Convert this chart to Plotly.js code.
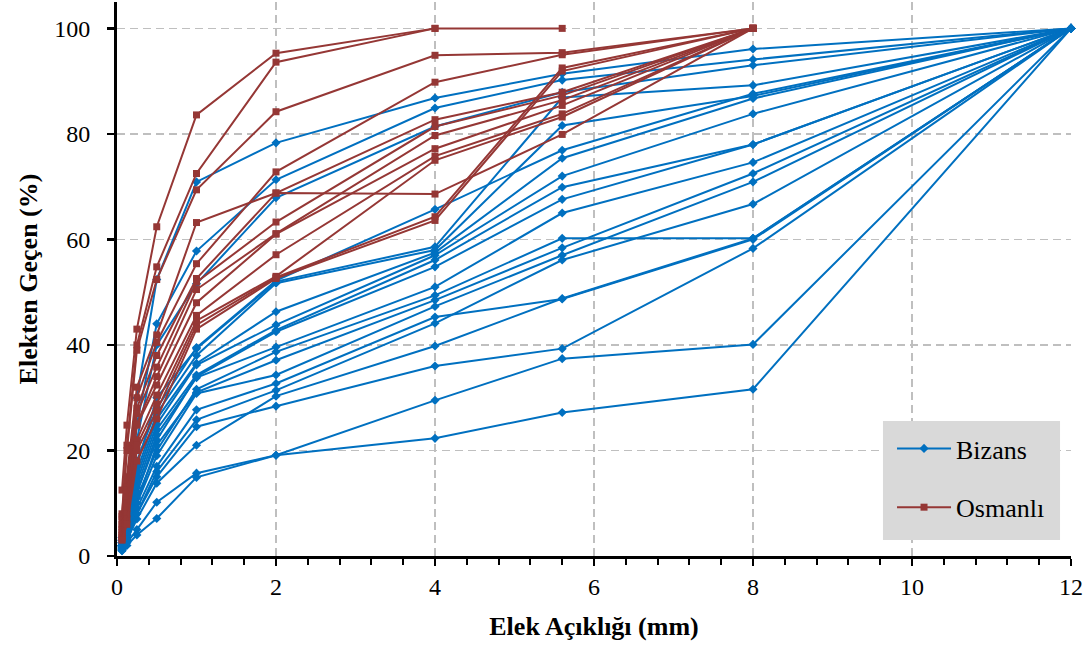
<!DOCTYPE html>
<html>
<head>
<meta charset="utf-8">
<script src="https://cdn.plot.ly/plotly-3.0.1.min.js"></script>
<style>html,body{margin:0;padding:0;background:#fff;}#chart{width:1090px;height:650px;}</style>
</head>
<body>
<div id="chart"></div>
<script>
// Sieve openings (mm)
const sieves = [0.063, 0.125, 0.25, 0.5, 1, 2, 4, 5.6, 8, 12];
const xTicks = [0, 2, 4, 6, 8, 10, 12];
const yTicks = [0, 20, 40, 60, 80, 100];

// Bizans samples (% passing)
const B01 = [3.5, 10, 30, 52.4, 70.9, 78.3, 86.8, 91.4, 96.1, 100];
const B02 = [3, 8, 25, 44, 57.8, 71.3, 84.9, 90.2, 94.1, 100];
const B03 = [3, 7, 22, 40, 51.6, 67.9, 81.4, 87.9, 93.0, 100];
const B04 = [2.5, 6, 18, 28, 39.5, 52.2, 65.7, 76.9, 87.6, 100];
const B05 = [2.5, 6, 17, 30, 39.3, 52.0, 58.6, 86.9, 89.2, 100];
const B06 = [2.5, 5.5, 16, 27, 38.0, 51.7, 58.0, 81.6, 87.2, 100];
const B07 = [2, 5, 15, 26, 36.5, 46.3, 57.5, 75.4, 86.7, 100];
const B08 = [2, 5, 14, 25, 36.2, 43.8, 57.0, 72.0, 83.8, 100];
const B09 = [2, 5, 13, 24, 34.3, 42.8, 56.1, 69.9, 78.0, 100];
const B10 = [2, 4.5, 12, 22, 34.0, 42.5, 54.8, 67.6, 78.0, 100];
const B11 = [2, 4.5, 12, 23, 33.8, 39.6, 51.0, 65.0, 74.6, 100];
const B12 = [1.8, 4, 11, 20, 31.6, 38.7, 49.4, 60.2, 60.2, 100];
const B13 = [1.8, 4, 10, 21, 31.0, 37.1, 48.5, 58.4, 72.5, 100];
const B14 = [1.5, 4, 10, 19, 30.8, 34.3, 47.3, 57.0, 70.9, 100];
const B15 = [1.5, 3.5, 9, 17, 27.7, 32.7, 45.3, 48.7, 60.0, 100];
const B16 = [1.5, 3.5, 8, 16, 25.8, 31.4, 44.1, 56.1, 66.7, 100];
const B17 = [1.2, 3, 7, 13.8, 21.0, 30.3, 39.8, 48.8, 60.2, 100];
const B18 = [1.2, 3, 8, 15, 24.5, 28.4, 36.0, 39.3, 58.3, 100];
const B19 = [1, 2.5, 5, 10.2, 15.7, 19.1, 29.5, 37.4, 40.1, 100];
const B20 = [1, 2, 4, 7.1, 14.9, 19.1, 22.3, 27.2, 31.6, 100];

// Osmanlı samples (% passing); shorter series stop at 100 %
const O01 = [12.5, 24.8, 43, 62.4, 83.6, 95.3, 100];
const O02 = [8, 21, 40, 54.8, 72.5, 93.6, 100, 100];
const O03 = [7.5, 20, 39, 52.4, 69.4, 84.2, 94.9, 95.4, 100];
const O04 = [6.8, 15, 32, 41.9, 63.2, 68.8, 68.6, 79.9, 100];
const O05 = [6, 14, 30, 40.5, 55.4, 72.8, 89.8, 95.0, 100];
const O06 = [5.5, 13, 28, 38, 52.6, 68.8, 82.7, 87.9, 100];
const O07 = [5, 12.5, 27, 35.8, 51.9, 63.3, 81.4, 87.3, 100];
const O08 = [4.5, 11, 25, 34, 50.5, 61.1, 79.7, 86.4, 100];
const O09 = [4, 10, 24.8, 32.4, 48.0, 61.0, 77.2, 85.4, 100];
const O10 = [3.8, 9, 22, 30.5, 45.6, 57.1, 75.8, 83.8, 100];
const O11 = [3.5, 8, 21, 28.8, 44.6, 53.0, 75.0, 83.2, 100];
const O12 = [3.2, 7, 20, 27.5, 43.8, 52.8, 64.3, 92.5, 100];
const O13 = [3, 6, 18, 26, 43.0, 52.6, 63.6, 91.9, 100];

const bizansSeries = [B01,B02,B03,B04,B05,B06,B07,B08,B09,B10,B11,B12,B13,B14,B15,B16,B17,B18,B19,B20];
const osmanliSeries = [O01,O02,O03,O04,O05,O06,O07,O08,O09,O10,O11,O12,O13];

const blue = '#0070c0';
const red = '#953735';
const serif = 'Liberation Serif, Times New Roman, serif';

const traces = [];
bizansSeries.forEach((s, i) => {
  traces.push({
    type: 'scatter', mode: 'lines+markers',
    x: sieves.slice(0, s.length), y: s,
    name: 'Bizans', legendgroup: 'b', showlegend: i === 0,
    line: {color: blue, width: 2},
    marker: {symbol: 'diamond', size: 7, color: blue},
    cliponaxis: false, hoverinfo: 'skip'
  });
});
osmanliSeries.forEach((s, i) => {
  traces.push({
    type: 'scatter', mode: 'lines+markers',
    x: sieves.slice(0, s.length), y: s,
    name: 'Osmanlı', legendgroup: 'o', showlegend: i === 0,
    line: {color: red, width: 2},
    marker: {symbol: 'square', size: 7, color: red},
    cliponaxis: false, hoverinfo: 'skip'
  });
});

const axisCommon = {
  showline: true, linewidth: 3, linecolor: '#000',
  ticks: 'outside', ticklen: 7, tickwidth: 2.5, tickcolor: '#000',
  showgrid: true, gridcolor: '#bfbfbf', gridwidth: 1.5, griddash: '8px,5px',
  zeroline: false,
  tickfont: {family: serif, size: 24, color: '#000'}
};

const layout = {
  width: 1090, height: 650,
  margin: {l: 117, r: 19, t: 2, b: 94},
  paper_bgcolor: '#fff', plot_bgcolor: '#fff',
  xaxis: Object.assign({}, axisCommon, {
    range: [0, 12], tickvals: xTicks,
    minor: {dtick: 0.4, ticks: 'outside', ticklen: 6, tickwidth: 2, tickcolor: '#000', showgrid: false},
    title: {text: '<b>Elek Açıklığı (mm)</b>', font: {family: serif, size: 26, color: '#000'}, standoff: 19}
  }),
  yaxis: Object.assign({}, axisCommon, {
    range: [0, 105], tickvals: yTicks, ticklabelstandoff: 12,
    title: {text: '<b>Elekten Geçen (%)</b>', font: {family: serif, size: 26, color: '#000'}, standoff: 10}
  }),
  shapes: [{
    type: 'rect', xref: 'paper', yref: 'paper', layer: 'above',
    x0: 0.8029, x1: 0.9885, y0: 0.0289, y1: 0.2437,
    fillcolor: '#d9d9d9', line: {width: 0}
  }],
  legend: {
    x: 0.8124, y: 0.2365, xanchor: 'left', yanchor: 'top',
    bgcolor: 'rgba(0,0,0,0)', borderwidth: 0,
    font: {family: serif, size: 26, color: '#000'},
    tracegroupgap: 22, itemwidth: 54
  },
  showlegend: true
};

Plotly.newPlot('chart', traces, layout, {displayModeBar: false, staticPlot: true});
</script>
</body>
</html>
